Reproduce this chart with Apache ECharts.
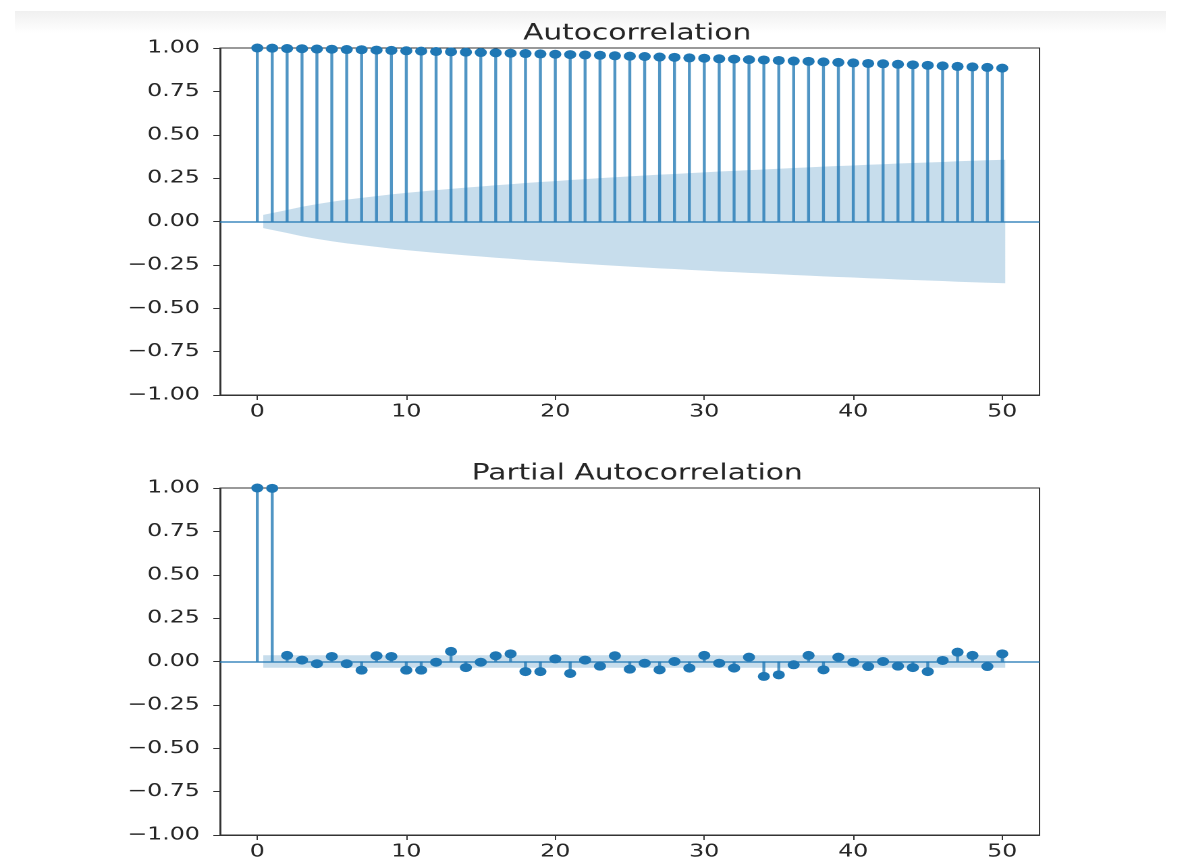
<!DOCTYPE html>
<html>
<head>
<meta charset="utf-8">
<title>ACF / PACF</title>
<script src="https://cdn.jsdelivr.net/npm/echarts@6/dist/echarts.min.js"></script>
<style>
html, body { margin: 0; padding: 0; background: #fff; overflow: hidden; }
.topbar {
  position: absolute; left: 15px; top: 11px; width: 1151px; height: 22px;
  background: linear-gradient(#f0f0f0, #fff);
}
/* the source figure is stretched sideways, so the chart is drawn narrow and scaled in x */
#chart {
  position: absolute; left: 0; top: 0; width: 875px; height: 861px;
  transform: scaleX(1.35); transform-origin: 0 0;
}
</style>
</head>
<body>
<div class="topbar"></div>
<div id="chart"></div>
<script>
var lags = [0, 1, 2, 3, 4, 5, 6, 7, 8, 9, 10, 11, 12, 13, 14, 15, 16, 17, 18, 19, 20,
  21, 22, 23, 24, 25, 26, 27, 28, 29, 30, 31, 32, 33, 34, 35, 36, 37, 38, 39, 40,
  41, 42, 43, 44, 45, 46, 47, 48, 49, 50];

var acfValues = [1.000, 0.999, 0.997, 0.996, 0.994, 0.993, 0.991, 0.990, 0.988, 0.986,
  0.984, 0.982, 0.980, 0.978, 0.976, 0.974, 0.972, 0.970, 0.968, 0.966,
  0.964, 0.962, 0.960, 0.958, 0.955, 0.953, 0.951, 0.948, 0.946, 0.943,
  0.941, 0.938, 0.936, 0.933, 0.931, 0.928, 0.925, 0.923, 0.920, 0.917,
  0.914, 0.911, 0.909, 0.906, 0.903, 0.900, 0.897, 0.894, 0.891, 0.888, 0.884];

// half width of the confidence band, lags 1..50
var acfConf = [0.038, 0.066, 0.085, 0.100, 0.114, 0.126, 0.136, 0.146, 0.156, 0.165,
  0.173, 0.181, 0.188, 0.195, 0.202, 0.209, 0.215, 0.222, 0.228, 0.233,
  0.239, 0.244, 0.250, 0.255, 0.260, 0.265, 0.270, 0.274, 0.279, 0.283,
  0.288, 0.292, 0.296, 0.300, 0.304, 0.308, 0.312, 0.316, 0.320, 0.323,
  0.327, 0.330, 0.334, 0.337, 0.340, 0.343, 0.347, 0.350, 0.353, 0.356];

var pacfValues = [1.000, 0.998, 0.035, 0.008, -0.013, 0.029, -0.013, -0.050, 0.033, 0.029,
  -0.050, -0.050, -0.004, 0.058, -0.035, -0.004, 0.033, 0.044, -0.058, -0.058,
  0.015, -0.069, 0.008, -0.027, 0.033, -0.044, -0.010, -0.048, 0.000, -0.038,
  0.035, -0.010, -0.038, 0.025, -0.086, -0.077, -0.019, 0.035, -0.048, 0.025,
  -0.004, -0.029, 0.000, -0.027, -0.035, -0.058, 0.006, 0.054, 0.035, -0.029, 0.044];

var pacfConf = 0.036;

var xTicks = [0, 10, 20, 30, 40, 50];
var titles = ['Autocorrelation', 'Partial Autocorrelation'];

var FONT = 'DejaVu Sans';
var C0 = '#1f77b4';
var INK = '#262626';
var gridTops = [48, 488];

// band starts a bit before lag 1 and stops just past lag 50
var bandLags = lags.slice(1).map(function (l, i, arr) {
  if (i === 0) return l - 0.6;
  if (i === arr.length - 1) return l + 0.2;
  return l;
});

function fmtY(v) {
  var s = Math.abs(v).toFixed(2);
  return v < 0 ? '\u2212' + s : s;
}

var option = {
  backgroundColor: 'transparent',
  animation: false,
  title: [],
  grid: [],
  xAxis: [],
  yAxis: [],
  series: []
};

function addPanel(i, values, conf) {
  option.title.push({
    text: titles[i],
    left: 467,
    top: gridTops[i] - 30,
    textAlign: 'center',
    textStyle: { fontFamily: FONT, fontSize: 22, fontWeight: 'normal', color: INK }
  });
  option.grid.push({
    left: 163, width: 607, top: gridTops[i], height: 347,
    show: true, borderColor: '#333', borderWidth: 1, backgroundColor: 'transparent'
  });
  option.xAxis.push({
    gridIndex: i, type: 'value', min: -2.5, max: 52.5,
    splitLine: { show: false },
    axisLine: { show: true, onZero: false, lineStyle: { color: '#333', width: 1 } },
    axisTick: { show: true, customValues: xTicks, length: 5, lineStyle: { color: '#333' } },
    axisLabel: { customValues: xTicks, color: INK, fontSize: 17.5, fontFamily: FONT, margin: 8 }
  });
  option.yAxis.push({
    gridIndex: i, type: 'value', min: -1, max: 1, interval: 0.25,
    splitLine: { show: false },
    axisLine: { show: true, onZero: false, lineStyle: { color: '#333', width: 1 } },
    axisTick: { show: true, length: 5, lineStyle: { color: '#333' } },
    axisLabel: { color: INK, fontSize: 17.5, fontFamily: FONT, margin: 15, formatter: fmtY }
  });

  var pts = lags.map(function (l, j) { return [l, values[j]]; });
  var half = function (j) { return Array.isArray(conf) ? conf[j] : conf; };
  var up = bandLags.map(function (l, j) { return [l, half(j)]; });
  var lo = bandLags.map(function (l, j) { return [l, -half(j)]; });

  [up, lo].forEach(function (d) {
    option.series.push({
      type: 'line', xAxisIndex: i, yAxisIndex: i, data: d,
      symbol: 'none', silent: true, z: 3,
      lineStyle: { width: 0 },
      areaStyle: { color: C0, opacity: 0.25 }
    });
  });

  option.series.push({
    type: 'bar', xAxisIndex: i, yAxisIndex: i, data: pts,
    barWidth: 2.2, z: 2, silent: true,
    itemStyle: { color: C0, opacity: 0.78 },
    markLine: {
      silent: true, symbol: 'none', label: { show: false },
      lineStyle: { color: C0, width: 1.6, type: 'solid', opacity: 0.85 },
      data: [{ yAxis: 0 }]
    }
  });

  option.series.push({
    type: 'scatter', xAxisIndex: i, yAxisIndex: i, data: pts,
    symbol: 'circle', symbolSize: 9, z: 4,
    itemStyle: { color: C0, opacity: 1 }
  });
}

addPanel(0, acfValues, acfConf);
addPanel(1, pacfValues, pacfConf);

var chart = echarts.init(document.getElementById('chart'), null, { devicePixelRatio: 2 });
chart.setOption(option);
</script>
</body>
</html>
